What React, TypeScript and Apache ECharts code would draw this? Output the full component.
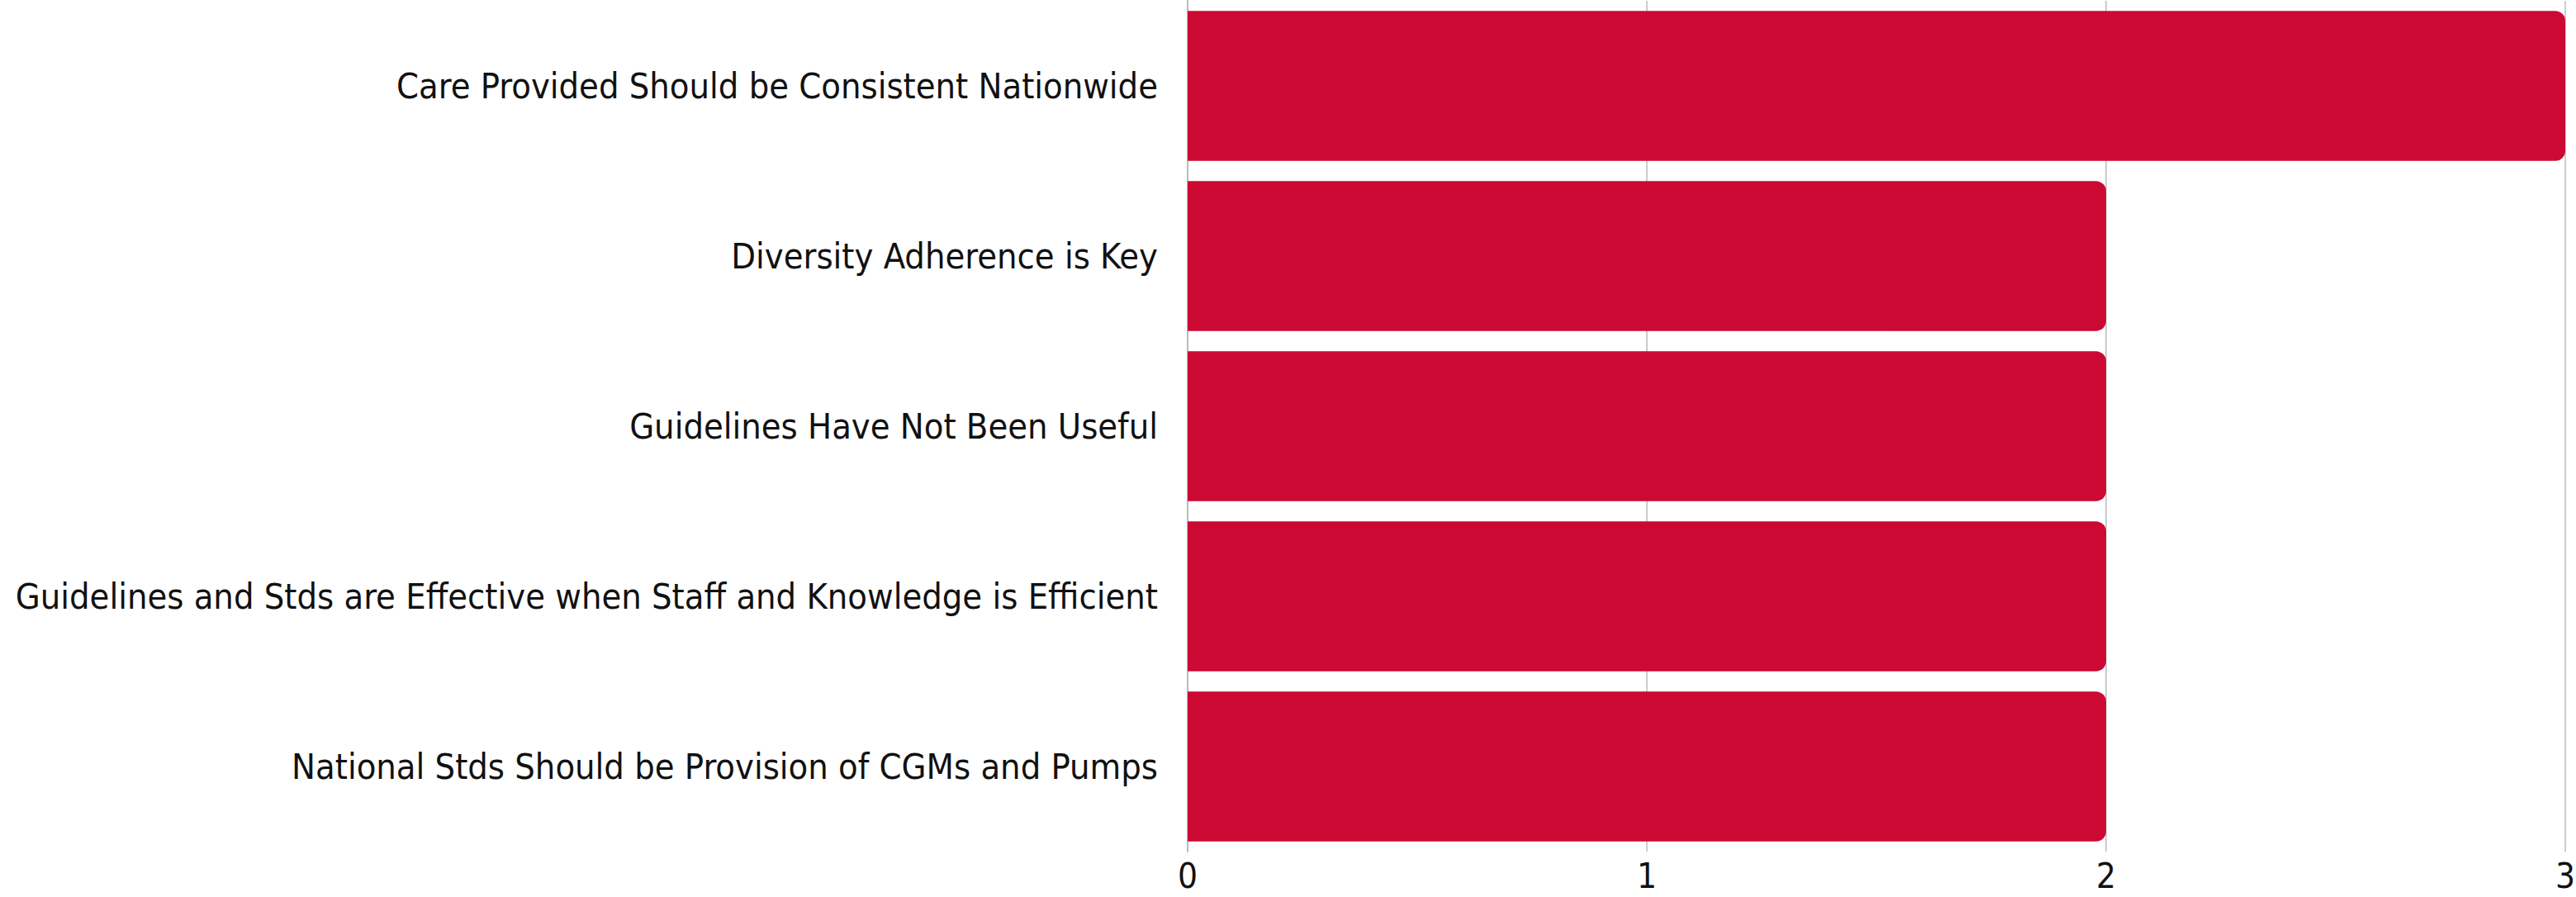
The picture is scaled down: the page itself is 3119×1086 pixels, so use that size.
import React, { useEffect, useRef } from "react";
import * as echarts from "echarts";

const categories = [
  "Care Provided Should be Consistent Nationwide",
  "Diversity Adherence is Key",
  "Guidelines Have Not Been Useful",
  "Guidelines and Stds are Effective when Staff and Knowledge is Efficient",
  "National Stds Should be Provision of CGMs and Pumps",
];
const values = [3, 2, 2, 2, 2];
const xTicks = [0, 1, 2, 3];

const FONT = "'DejaVu Sans Condensed', 'Liberation Sans Narrow', sans-serif";

export default function App() {
  const ref = useRef<HTMLDivElement>(null);
  useEffect(() => {
    if (!ref.current) return;
    const chart = echarts.init(ref.current, null, { renderer: "svg" });
    chart.setOption({
      animation: false,
      backgroundColor: "#ffffff",
      grid: {
        left: 1438,
        right: 13,
        top: 1,
        bottom: 55,
        containLabel: false,
        outerBoundsMode: "none",
      },
      xAxis: {
        type: "value",
        min: xTicks[0],
        max: xTicks[xTicks.length - 1],
        interval: 1,
        axisLine: { show: false },
        axisTick: { show: false },
        splitLine: { show: true, lineStyle: { color: "#cccccc", width: 2 } },
        axisLabel: {
          fontFamily: FONT,
          fontSize: 42,
          lineHeight: 42,
          color: "#111111",
          margin: 8,
        },
      },
      yAxis: {
        type: "category",
        data: categories,
        inverse: true,
        axisLine: { show: true, lineStyle: { color: "#bbbbbb", width: 2 } },
        axisTick: { show: false },
        axisLabel: {
          fontFamily: FONT,
          fontSize: 43,
          color: "#111111",
          margin: 36,
        },
      },
      series: [
        {
          type: "bar",
          data: values,
          barCategoryGap: "12%",
          itemStyle: { color: "#cb0933", borderRadius: [0, 12, 12, 0] },
        },
      ],
    });
    return () => chart.dispose();
  }, []);
  return (
    <div
      ref={ref}
      style={{ position: "fixed", left: 0, top: 0, width: 3119, height: 1086 }}
    />
  );
}
